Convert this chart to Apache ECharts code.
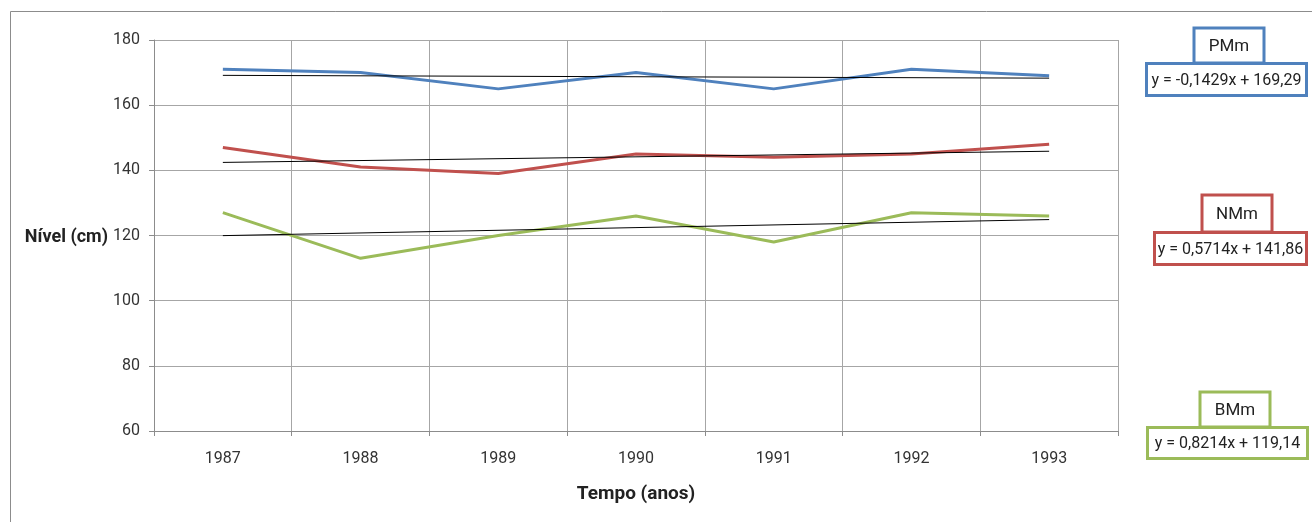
<!DOCTYPE html>
<html>
<head>
<meta charset="utf-8">
<script src="https://cdn.jsdelivr.net/npm/echarts@6/dist/echarts.min.js"></script>
<style>
html,body{margin:0;padding:0;background:#fff;}
#c{width:1312px;height:522px;}
</style>
</head>
<body>
<div id="c"></div>
<script>
var categories = ['1987','1988','1989','1990','1991','1992','1993'];
var pmm = [171, 170, 165, 170, 165, 171, 169];
var nmm = [147, 141, 139, 145, 144, 145, 148];
var bmm = [127, 113, 120, 126, 118, 127, 126];
// trend line endpoints (first and last year) as shown
var pmmTrend = [169.15, 168.29];
var nmmTrend = [142.43, 145.86];
var bmmTrend = [119.96, 124.89];
var seriesNames = ['PMm', 'NMm', 'BMm'];
var equations = ['y = -0,1429x + 169,29', 'y = 0,5714x + 141,86', 'y = 0,8214x + 119,14'];
var colors = ['#4f81bd', '#c0504d', '#9bbb59'];

var FONT = 'Roboto, "Open Sans", sans-serif';

function trendData(t) {
  var d = [];
  for (var i = 0; i < categories.length; i++) d.push('-');
  d[0] = t[0]; d[categories.length - 1] = t[1];
  return d;
}

function labelBox(name, eq, color, tb, eb) {
  return [
    { type: 'rect', shape: { x: tb[0], y: tb[1], width: tb[2], height: tb[3] },
      style: { fill: '#fff', stroke: color, lineWidth: 3 }, z: 10 },
    { type: 'text', x: tb[0] + tb[2] / 2, y: tb[1] + tb[3] / 2 + 1,
      style: { text: name, fill: '#222', font: '17px ' + FONT, align: 'center', verticalAlign: 'middle' }, z: 11 },
    { type: 'rect', shape: { x: eb[0], y: eb[1], width: eb[2], height: eb[3] },
      style: { fill: '#fff', stroke: color, lineWidth: 3 }, z: 12 },
    { type: 'text', x: eb[0] + eb[2] / 2, y: eb[1] + eb[3] / 2 + 1,
      style: { text: eq, fill: '#222', font: '16px ' + FONT, align: 'center', verticalAlign: 'middle' }, z: 13 }
  ];
}

var graphics = [
  { type: 'polyline', shape: { points: [[10.5, 522], [10.5, 11.5], [1312, 11.5]] },
    style: { stroke: '#8c8c8c', lineWidth: 1, fill: null } },
  { type: 'text', x: 108, y: 237,
    style: { text: 'Nível (cm)', fill: '#222', font: 'bold 18px ' + FONT, align: 'right', verticalAlign: 'middle' } }
];
graphics = graphics
  .concat(labelBox(seriesNames[0], equations[0], colors[0], [1194, 28, 70, 35], [1146.5, 63.5, 160, 32]))
  .concat(labelBox(seriesNames[1], equations[1], colors[1], [1202, 195, 70, 37], [1154.5, 232.5, 152, 32]))
  .concat(labelBox(seriesNames[2], equations[2], colors[2], [1200, 392, 70, 35], [1147.5, 427.5, 160, 31]));

var chart = echarts.init(document.getElementById('c'), null, { renderer: 'canvas' });
chart.setOption({
  animation: false,
  backgroundColor: '#fff',
  grid: { left: 154, right: 194, top: 40, bottom: 91, containLabel: false },
  xAxis: {
    type: 'category',
    data: categories,
    boundaryGap: true,
    name: 'Tempo (anos)',
    nameLocation: 'middle',
    nameGap: 54,
    nameTextStyle: { fontFamily: FONT, fontSize: 19, fontWeight: 'bold', color: '#222' },
    axisLine: { lineStyle: { color: '#8c8c8c', width: 1 } },
    axisTick: { show: true, length: 5, lineStyle: { color: '#8c8c8c' } },
    axisLabel: { fontFamily: FONT, fontSize: 16, color: '#333', margin: 20 },
    splitLine: { show: true, lineStyle: { color: '#a6a6a6', width: 1 } }
  },
  yAxis: {
    type: 'value',
    min: 60, max: 180, interval: 20,
    axisLine: { show: true, lineStyle: { color: '#8c8c8c', width: 1 } },
    axisTick: { show: true, length: 5, lineStyle: { color: '#8c8c8c' } },
    axisLabel: { fontFamily: FONT, fontSize: 16, color: '#333', margin: 14 },
    splitLine: { show: true, lineStyle: { color: '#a6a6a6', width: 1 } }
  },
  series: [
    { name: seriesNames[0], type: 'line', data: pmm, symbol: 'none', lineStyle: { color: colors[0], width: 3 }, z: 3 },
    { name: seriesNames[1], type: 'line', data: nmm, symbol: 'none', lineStyle: { color: colors[1], width: 3 }, z: 3 },
    { name: seriesNames[2], type: 'line', data: bmm, symbol: 'none', lineStyle: { color: colors[2], width: 3 }, z: 3 },
    { name: 'PMm trend', type: 'line', data: trendData(pmmTrend), connectNulls: true, symbol: 'none', lineStyle: { color: '#000', width: 1 }, z: 4 },
    { name: 'NMm trend', type: 'line', data: trendData(nmmTrend), connectNulls: true, symbol: 'none', lineStyle: { color: '#000', width: 1 }, z: 4 },
    { name: 'BMm trend', type: 'line', data: trendData(bmmTrend), connectNulls: true, symbol: 'none', lineStyle: { color: '#000', width: 1 }, z: 4 }
  ],
  graphic: graphics
});
</script>
</body>
</html>
